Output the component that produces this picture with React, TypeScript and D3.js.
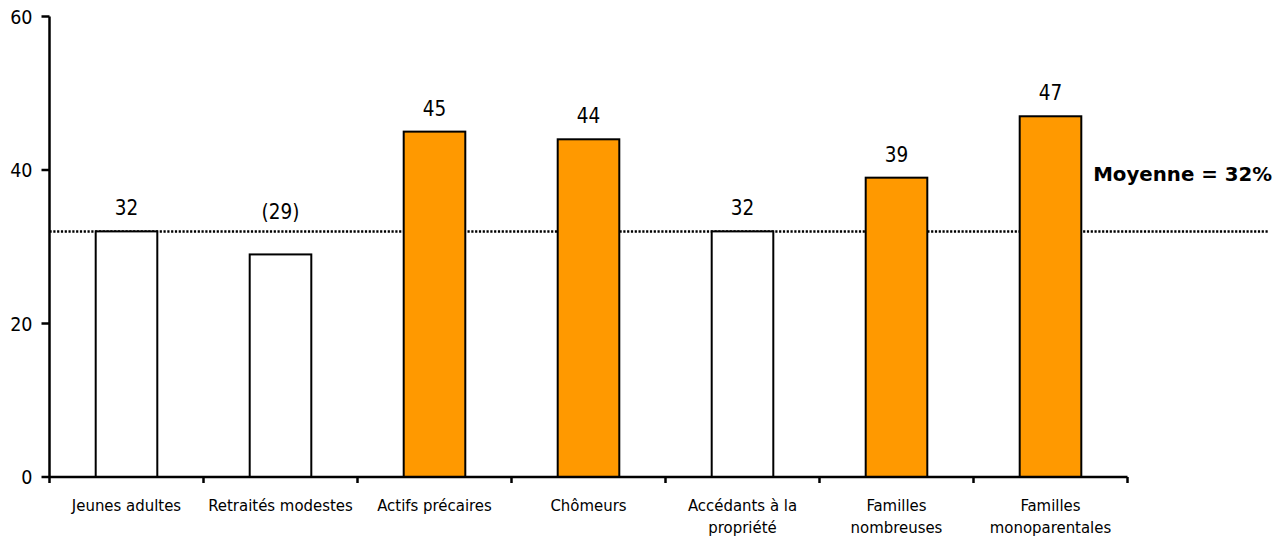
import React from "react";
import * as d3 from "d3";

const categories = [
  "Jeunes adultes",
  "Retraités modestes",
  "Actifs précaires",
  "Chômeurs",
  "Accédants à la|propriété",
  "Familles|nombreuses",
  "Familles|monoparentales",
];
const values = [32, 29, 45, 44, 32, 39, 47];
const valueLabels = ["32", "(29)", "45", "44", "32", "39", "47"];
const highlighted = [false, false, true, true, false, true, true];
const yTicks = [0, 20, 40, 60];
const average = 32;
const averageLabel = "Moyenne = 32%";

const W = 1287;
const H = 539;
const x0 = 49.5;
const x1 = 1127.5;
const yTop = 16.5;
const yBottom = 477;

export default function App() {
  const x = d3.scaleBand<string>().domain(categories).range([x0, x1]).paddingInner(0.6).paddingOuter(0.3);
  const xb = d3.scaleBand<string>().domain(categories).range([x0, x1]);
  const y = d3.scaleLinear().domain([0, 60]).range([yBottom, yTop]);
  const font = "'DejaVu Sans Condensed', 'DejaVu Sans', sans-serif";
  const ya = y(average);
  return (
    <svg width={W} height={H} style={{ position: "absolute", left: 0, top: 0, background: "#fff" }}>
      {/* average dotted line */}
      <line x1={x0} x2={1268} y1={ya} y2={ya} stroke="#000" strokeWidth={2.5} strokeDasharray="2.2,1.6" />
      {/* bars */}
      {categories.map((c, i) => {
        const v = values[i];
        const ly = v < average ? ya - 12 : y(v) - 16;
        return (
          <g key={c}>
            <rect
              x={x(c)!}
              y={y(v)}
              width={x.bandwidth()}
              height={yBottom - y(v)}
              fill={highlighted[i] ? "#FF9900" : "#FFFFFF"}
              stroke="#000"
              strokeWidth={2}
            />
            <text
              x={x(c)! + x.bandwidth() / 2}
              y={ly}
              textAnchor="middle"
              fontFamily={font}
              fontSize={20.5}
              fill="#000"
            >
              {valueLabels[i]}
            </text>
            {c.split("|").map((line, j) => (
              <text
                key={j}
                x={xb(c)! + xb.bandwidth() / 2}
                y={511 + j * 21.5}
                textAnchor="middle"
                fontFamily={font}
                fontSize={16.6}
                fill="#000"
              >
                {line}
              </text>
            ))}
          </g>
        );
      })}
      {/* x axis */}
      <line x1={x0} x2={x1} y1={yBottom} y2={yBottom} stroke="#000" strokeWidth={2.5} />
      {d3.range(categories.length + 1).map((i) => {
        const tx = x0 + i * xb.step();
        return <line key={i} x1={tx} x2={tx} y1={yBottom} y2={yBottom + 6} stroke="#000" strokeWidth={2.5} />;
      })}
      {/* y axis */}
      <line x1={x0} x2={x0} y1={yTop} y2={yBottom} stroke="#000" strokeWidth={2.5} />
      {yTicks.map((t) => (
        <g key={t}>
          <line x1={x0 - 8} x2={x0} y1={y(t)} y2={y(t)} stroke="#000" strokeWidth={2.5} />
          <text x={32.5} y={y(t) + 7} textAnchor="end" fontFamily={font} fontSize={19.5} fill="#000">
            {t}
          </text>
        </g>
      ))}
      <text x={1272} y={181} textAnchor="end" fontFamily="'DejaVu Sans', sans-serif" fontWeight="bold" fontSize={19.8} fill="#000">
        {averageLabel}
      </text>
    </svg>
  );
}
